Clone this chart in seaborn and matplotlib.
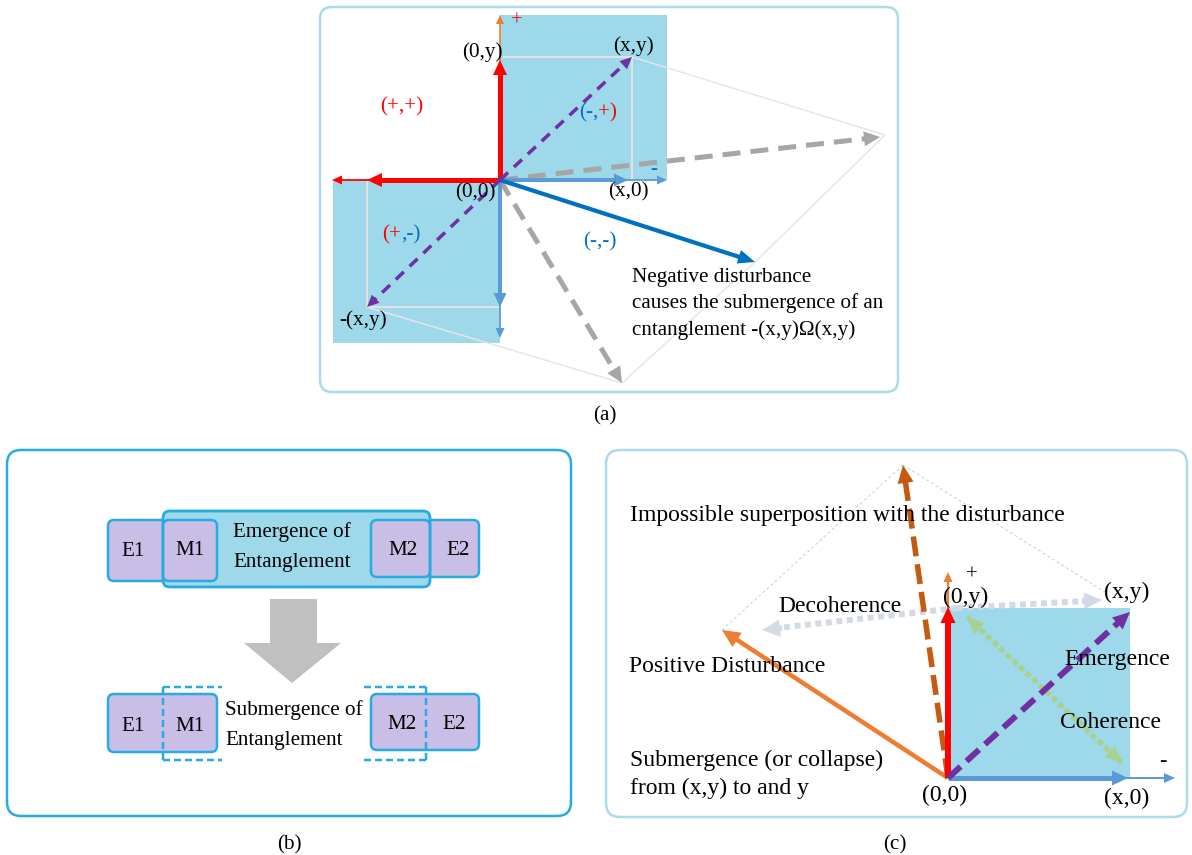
import numpy as np
import matplotlib
matplotlib.use("Agg")
import matplotlib.pyplot as plt
from matplotlib.patches import FancyBboxPatch, Rectangle, Polygon
import seaborn as sns

sns.set_theme(style="white")
plt.rcParams['font.family'] = ['Liberation Serif', 'DejaVu Serif']

# colours
CYAN = '#9dd9ea'
PURPLE_BOX = '#c9bfe6'
FRAME_LIGHT = '#a9dbea'
FRAME_BLUE = '#29abe2'
RED = '#ff0000'
BLUE = '#5b9bd5'
DARK_BLUE = '#0070c0'
GREY = '#a6a6a6'
VIOLET = '#7030a0'
ORANGE = '#ed7d31'
BROWN = '#c55a11'
DECO = '#d3dae5'
GREEN = '#a9d18e'

# ---- panel (a) geometry (pixel space of the figure)
a_origin = (500, 180)
a_xy = (632, 57)
a_neg_xy = (367, 307)
a_up = (500, 60)
a_up_far = (500, 15)
a_left = (367, 180)
a_left_far = (332, 180)
a_right = (628, 180)
a_right_far = (667, 180)
a_down = (500, 307)
a_down_far = (500, 338)
a_grey_tips = [(880, 137), (622, 383)]
a_neg_dist = (755, 262)
a_squares = [(500, 15, 667, 180), (333, 180, 500, 343)]
a_frame_pts = [(632, 57), (885, 135), (755, 262), (622, 383), (367, 307)]

a_labels = ["(0,y)", "(x,y)", "(x,0)", "(0,0)", "-(x,y)"]
a_label_pos = [(482, 52), (633, 46), (628, 192), (475, 193), (363, 320)]
a_note = ["Negative disturbance", "causes the submergence of an",
          "cntanglement -(x,y)\u03a9(x,y)"]

# ---- panel (b)
b_top_boxes = ["E1", "M1", "M2", "E2"]
b_top_text = ["Emergence of", "Entanglement"]
b_bottom_text = ["Submergence of", "Entanglement"]

# ---- panel (c) geometry
c_origin = (948, 778)
c_xy = (1130, 612)
c_y = (948, 607)
c_y_far = (948, 572)
c_x = (1128, 778)
c_x_far = (1175, 778)
c_pos_dist = (722, 630)
c_impossible = (903, 465)
c_deco_mid = (957, 608)
c_deco_tips = [(762, 630), (1102, 600)]
c_coh = [(967, 617), (1122, 763)]
c_square = (948, 608, 1130, 778)

c_labels = ["(0,y)", "(x,y)", "(0,0)", "(x,0)"]
c_label_pos = [(966, 597), (1127, 592), (945, 795), (1127, 798)]
c_texts = ["Impossible superposition with the disturbance", "Decoherence",
           "Positive Disturbance", "Emergence", "Coherence",
           "Submergence (or collapse)", "from (x,y) to and y"]
c_text_pos = [(630, 515), (778, 606), (629, 666), (1064, 659), (1060, 722),
              (630, 760), (630, 788)]

captions = ["(a)", "(b)", "(c)"]
caption_pos = [(605, 416), (289, 845), (895, 845)]

W, H = 1192, 855
fig = plt.figure(figsize=(W / 100, H / 100), dpi=100)
ax = fig.add_axes([0, 0, 1, 1])
ax.set_xlim(0, W)
ax.set_ylim(H, 0)
ax.set_axis_off()

PT = 0.72  # px -> pt
FS = 15.2
FS_C = 17.0


def arrow(p0, p1, color, lw, hl=None, hw=None, dash=None, z=3, cap='butt'):
    p0 = np.asarray(p0, float)
    p1 = np.asarray(p1, float)
    d = p1 - p0
    u = d / np.hypot(*d)
    n = np.array([-u[1], u[0]])
    hl = hl if hl is not None else 2.6 * lw + 5
    hw = hw if hw is not None else 2.6 * lw + 5
    base = p1 - u * hl
    end = base + u * 2
    kw = dict(color=color, lw=lw * PT, solid_capstyle='butt', zorder=z)
    if dash is not None:
        kw['linestyle'] = (0, (dash[0] / lw, dash[1] / lw))
        kw['dash_capstyle'] = cap
    ax.plot([p0[0], end[0]], [p0[1], end[1]], **kw)
    tri = np.array([p1, base + n * hw / 2, base - n * hw / 2])
    ax.add_patch(Polygon(tri, closed=True, fc=color, ec='none', zorder=z))


def line(p0, p1, color, lw, dash=None, z=2):
    kw = dict(color=color, lw=lw * PT, zorder=z, solid_capstyle='butt')
    if dash is not None:
        kw['linestyle'] = (0, (dash[0] / lw, dash[1] / lw))
    ax.plot([p0[0], p1[0]], [p0[1], p1[1]], **kw)


def rbox(x0, y0, x1, y1, fc, ec, lw, r, z=1, alpha=1):
    ax.add_patch(FancyBboxPatch((x0, y0), x1 - x0, y1 - y0,
                                boxstyle=f"round,pad=0,rounding_size={r}",
                                fc=fc, ec=ec, lw=lw * PT, zorder=z, alpha=alpha))


def txt(x, y, s, size=FS, color='black', ha='center', z=6):
    ax.text(x, y, s, fontsize=size, color=color, ha=ha, va='center', zorder=z)


# ================= panel (a) =================
rbox(320, 7, 898, 392, 'white', FRAME_LIGHT, 2.5, 12)
for x0, y0, x1, y1 in a_squares:
    ax.add_patch(Rectangle((x0, y0), x1 - x0, y1 - y0, fc=CYAN, ec='none', zorder=1.5))
# helper grid lines inside squares
line((503, a_xy[1]), a_xy, '#e2e2e2', 2)
line(a_xy, (a_xy[0], 180), '#e2e2e2', 2)
line((a_neg_xy[0], 180), a_neg_xy, '#e2e2e2', 2)
line(a_neg_xy, (500, a_neg_xy[1]), '#e2e2e2', 2)
# construction parallelograms
fp = a_frame_pts
line(fp[0], fp[1], '#e6e6e6', 1.5)
line(fp[1], fp[2], '#e6e6e6', 1.5)
line(fp[4], fp[3], '#e6e6e6', 1.5)
line(fp[3], fp[2], '#e6e6e6', 1.5)

arrow(a_origin, a_grey_tips[0], GREY, 5, hl=16, hw=15, dash=(18, 10), z=2.6)
arrow(a_origin, a_grey_tips[1], GREY, 5, hl=16, hw=15, dash=(18, 10), z=2.6)
arrow(a_origin, a_up_far, ORANGE, 1.6, hl=9, hw=8)
arrow(a_origin, a_up, RED, 5, hl=15, hw=14, z=3.2)
arrow(a_origin, a_left_far, RED, 1.8, hl=10, hw=9)
arrow(a_origin, a_left, RED, 5, hl=15, hw=14, z=3.2)
arrow(a_origin, a_right_far, BLUE, 1.8, hl=10, hw=9)
arrow(a_origin, a_right, BLUE, 4, hl=14, hw=13, z=3.2)
arrow(a_origin, a_down_far, BLUE, 1.8, hl=10, hw=9)
arrow(a_origin, a_down, BLUE, 4, hl=14, hw=13, z=3.2)
arrow(a_origin, a_neg_dist, DARK_BLUE, 4.2, hl=17, hw=14, z=3.3)
arrow(a_origin, a_xy, VIOLET, 3.5, hl=12, hw=11, dash=(11, 8), z=3.4)
arrow(a_origin, a_neg_xy, VIOLET, 3.5, hl=12, hw=11, dash=(11, 8), z=3.4)

for s, (x, y) in zip(a_labels, a_label_pos):
    txt(x, y, s)
txt(517, 21, "+", size=15, color=RED)
txt(654, 169, "-", size=15, color=DARK_BLUE)
txt(402, 107, "(+,+)", color=RED)
txt(598, 113, "(-,", color=DARK_BLUE, ha='right')
txt(598, 113, "+)", color=RED, ha='left')
txt(401, 235, "(+", color=RED, ha='right')
txt(401, 235, ",-)", color=DARK_BLUE, ha='left')
txt(600, 242, "(-,-)", color=DARK_BLUE)
for i, s in enumerate(a_note):
    txt(632, 277 + 26.5 * i, s, ha='left')

# ================= panel (b) =================
rbox(7, 450, 571, 816, 'white', FRAME_BLUE, 2.5, 14)
# top row
rbox(108, 520, 217, 581, PURPLE_BOX, FRAME_BLUE, 2.5, 6, z=2)
rbox(371, 520, 479, 577, PURPLE_BOX, FRAME_BLUE, 2.5, 6, z=2)
rbox(163, 511, 430, 587, CYAN, FRAME_BLUE, 2.5, 7, z=2.2)
rbox(163, 520, 217, 581, PURPLE_BOX, FRAME_BLUE, 2.5, 6, z=2.4)
rbox(371, 520, 430, 577, PURPLE_BOX, FRAME_BLUE, 2.5, 6, z=2.4)
# keep the cyan box outline visible on top
rbox(163, 511, 430, 587, 'none', FRAME_BLUE, 2.5, 7, z=2.5, alpha=0.85)
txt(133, 551, b_top_boxes[0])
txt(190, 550, b_top_boxes[1])
txt(403, 550, b_top_boxes[2])
txt(458, 550, b_top_boxes[3])
txt(233, 532, b_top_text[0], ha='left')
txt(233, 562, b_top_text[1], ha='left')
# big grey arrow
ax.add_patch(Polygon([(270, 599), (317, 599), (317, 643), (341, 643), (292, 683),
                      (244, 643), (270, 643)], closed=True, fc='#c0c0c0',
                     ec='none', zorder=2))
# bottom row
rbox(108, 694, 217, 752, PURPLE_BOX, FRAME_BLUE, 2.5, 6, z=2)
rbox(371, 694, 479, 750, PURPLE_BOX, FRAME_BLUE, 2.5, 6, z=2)
dash_b = (7, 4)
line((163, 687), (163, 760), FRAME_BLUE, 2.5, dash=dash_b, z=2.6)
line((163, 687), (222, 687), FRAME_BLUE, 2.5, dash=dash_b, z=2.6)
line((163, 760), (222, 760), FRAME_BLUE, 2.5, dash=dash_b, z=2.6)
line((426, 687), (426, 760), FRAME_BLUE, 2.5, dash=dash_b, z=2.6)
line((364, 687), (426, 687), FRAME_BLUE, 2.5, dash=dash_b, z=2.6)
line((364, 760), (426, 760), FRAME_BLUE, 2.5, dash=dash_b, z=2.6)
txt(133, 726, "E1")
txt(190, 726, "M1")
txt(402, 724, "M2")
txt(454, 724, "E2")
txt(225, 710, b_bottom_text[0], ha='left')
txt(225, 740, b_bottom_text[1], ha='left')

# ================= panel (c) =================
rbox(606, 450, 1187, 817, 'white', FRAME_LIGHT, 2.5, 14)
x0, y0, x1, y1 = c_square
ax.add_patch(Rectangle((x0, y0), x1 - x0, y1 - y0, fc=CYAN, ec='none', zorder=1.5))
line(c_pos_dist, c_impossible, '#cfcfcf', 1, dash=(3, 2.5))
line(c_impossible, (1105, 592), '#cfcfcf', 1, dash=(3, 2.5))

arrow(c_origin, c_pos_dist, ORANGE, 4.5, hl=18, hw=17, z=3)
arrow(c_origin, c_impossible, BROWN, 5.5, hl=18, hw=16, dash=(20, 8), z=3.1)
# decoherence (dotted, both directions from (0,y))
ax.plot([c_deco_mid[0], c_deco_tips[0][0] + 16], [c_deco_mid[1], c_deco_tips[0][1] - 2],
        color=DECO, lw=6 * PT, linestyle=(0, (1, 0.75)), zorder=2.8)
arrow((c_deco_tips[0][0] + 20, c_deco_tips[0][1] - 2), c_deco_tips[0], DECO, 6,
      hl=18, hw=17, z=2.8)
ax.plot([c_deco_mid[0], c_deco_tips[1][0] - 16], [c_deco_mid[1], c_deco_tips[1][1] + 1],
        color=DECO, lw=6 * PT, linestyle=(0, (1, 0.75)), zorder=2.8)
arrow((c_deco_tips[1][0] - 20, c_deco_tips[1][1] + 1), c_deco_tips[1], DECO, 6,
      hl=18, hw=17, z=2.8)
# coherence (dotted, double headed)
arrow(c_coh[0], c_coh[1], GREEN, 5, hl=17, hw=15, dash=(5, 4), z=3.5)
arrow(c_coh[1], c_coh[0], GREEN, 5, hl=17, hw=15, dash=(5, 4), z=3.5)
arrow(c_origin, c_y_far, ORANGE, 2, hl=10, hw=9, z=3.2)
arrow(c_origin, c_y, RED, 6, hl=16, hw=15, z=3.3)
arrow(c_origin, c_x_far, BLUE, 2, hl=11, hw=10, z=3.2)
arrow(c_origin, c_x, BLUE, 5, hl=16, hw=15, z=3.3)
arrow(c_origin, c_xy, VIOLET, 6, hl=17, hw=16, dash=(17, 8), z=3.6)

for s, (x, y) in zip(c_labels, c_label_pos):
    txt(x, y, s, size=FS_C)
txt(972, 575, "+", size=15)
txt(1163, 761, "-", size=16)
for s, (x, y) in zip(c_texts, c_text_pos):
    txt(x, y, s, size=FS_C, ha='left')

for s, (x, y) in zip(captions, caption_pos):
    txt(x, y, s, size=FS)

fig.savefig("out.png", dpi=100, facecolor='white')
